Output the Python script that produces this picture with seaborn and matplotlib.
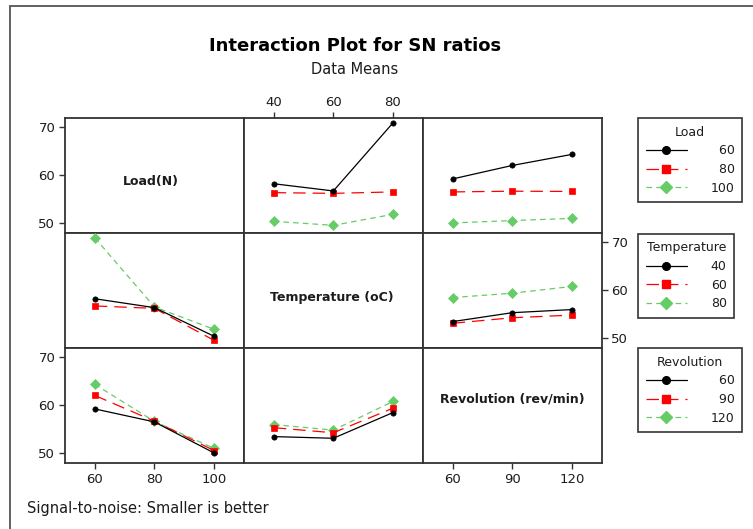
import matplotlib
matplotlib.use('Agg')
import matplotlib.pyplot as plt
import matplotlib.patches as patches
from matplotlib.lines import Line2D
import seaborn as sns

# factor levels
load_levels = [60, 80, 100]
temp_levels = [40, 60, 80]
rev_levels = [60, 90, 120]

factor_names = ['Load', 'Temperature', 'Revolution']
factor_labels = ['Load(N)', 'Temperature (oC)', 'Revolution (rev/min)']
factor_levels = [load_levels, temp_levels, rev_levels]

# mean SN ratios, rows = first factor level, cols = second factor level
load_temp = [[58.2, 56.7, 70.85],
             [56.35, 56.2, 56.5],
             [50.4, 49.55, 51.85]]
load_rev = [[59.2, 62.0, 64.3],
            [56.5, 56.65, 56.6],
            [50.05, 50.55, 51.0]]
temp_rev = [[53.45, 55.3, 55.95],
            [53.1, 54.25, 54.8],
            [58.45, 59.35, 60.75]]

y_ticks = [50, 60, 70]

tables = {(0, 1): load_temp, (0, 2): load_rev, (1, 2): temp_rev}


def get_table(i, j):
    # table with rows = levels of factor i, cols = levels of factor j
    if (i, j) in tables:
        return tables[(i, j)]
    t = tables[(j, i)]
    return [[t[c][r] for c in range(3)] for r in range(3)]


sns.set_style('white')
plt.rcParams['font.family'] = ['DejaVu Sans']
plt.rcParams['lines.scale_dashes'] = False

colors = ['black', '#ff0000', '#66cc66']
markers = ['o', 's', 'D']
msizes = [3.8, 4.5, 4.6]
lstyles = ['-', (0, (9, 5)), (0, (4, 3))]
text_col = '#1c1c1c'
edge_col = '#333333'

fig, axes = plt.subplots(3, 3, figsize=(7.53, 5.29), dpi=100)
fig.subplots_adjust(left=65 / 753, right=601.7 / 753, top=1 - 118.3 / 529,
                    bottom=1 - 463.3 / 529, wspace=0, hspace=0)

label_pos = [(0.48, 0.45), (0.49, 0.44), (0.50, 0.56)]

for i in range(3):
    for j in range(3):
        ax = axes[i, j]
        ax.set_xlim(-0.5, 2.5)
        ax.set_ylim(47.9, 71.8)
        for s in ax.spines.values():
            s.set_color(edge_col)
            s.set_linewidth(1.3)
        ax.tick_params(left=False, labelleft=False, bottom=False, labelbottom=False)
        if i == j:
            ax.text(label_pos[i][0], label_pos[i][1], factor_labels[i], transform=ax.transAxes,
                    ha='center', va='center', fontsize=9, fontweight='bold', color=text_col)
        else:
            tab = get_table(i, j)
            for k in range(3):
                sns.lineplot(x=[0, 1, 2], y=tab[k], ax=ax, color=colors[k], marker=markers[k],
                             markersize=msizes[k], markeredgecolor=colors[k], markeredgewidth=0.5,
                             linewidth=0.9, linestyle=lstyles[k], clip_on=False, zorder=3 + (2 - k))
        ax.set_xlabel('')
        ax.set_ylabel('')
        ax.set_xticks([0, 1, 2])
        ax.set_xticklabels([str(v) for v in factor_levels[j]])
        ax.set_yticks(y_ticks)
        ax.set_yticklabels([str(v) for v in y_ticks])
        ax.tick_params(direction='out', length=4, width=1, colors=edge_col,
                       labelcolor=text_col, labelsize=9.5, pad=3)

# axis ticks like the Minitab layout
axes[0, 0].tick_params(left=True, labelleft=True)
axes[2, 0].tick_params(left=True, labelleft=True, bottom=True, labelbottom=True)
axes[1, 2].tick_params(right=True, labelright=True)
axes[0, 1].tick_params(top=True, labeltop=True)
axes[2, 2].tick_params(bottom=True, labelbottom=True)

# legends, one per row
legend_tops = [118.3, 234.0, 348.3]
fs = '\u2007'
for i in range(3):
    handles = [Line2D([0], [0], color=colors[k], marker=markers[k], markersize=[5.5, 5.5, 6.5][k],
                      markeredgecolor=colors[k], linewidth=0.9, linestyle=lstyles[k])
               for k in range(3)]
    labs = [str(v) for v in factor_levels[i]]
    width = max(len(s) for s in labs)
    labs = [fs * (width - len(s)) + s for s in labs]
    leg = fig.legend(handles, labs, title=factor_names[i], loc='upper left',
                     bbox_to_anchor=(638.3 / 753, 1 - legend_tops[i] / 529),
                     bbox_transform=fig.transFigure, borderaxespad=0, fancybox=False,
                     framealpha=1, edgecolor=edge_col, fontsize=9, title_fontsize=9,
                     handlelength=3.3, handletextpad=1.9, labelspacing=0.45,
                     borderpad=0.6)
    leg.get_frame().set_linewidth(1.2)
    for t in leg.get_texts():
        t.set_color(text_col)
    leg.get_title().set_color(text_col)

fig.text(355 / 753, 1 - 46 / 529, 'Interaction Plot for SN ratios', ha='center', va='center',
         fontsize=13, fontweight='bold', color='black')
fig.text(355 / 753, 1 - 69 / 529, 'Data Means', ha='center', va='center',
         fontsize=10.5, color=text_col)
fig.text(27 / 753, 1 - 509 / 529, 'Signal-to-noise: Smaller is better', ha='left', va='center',
         fontsize=10.5, color=text_col)

# outer frame of the graph window
fig.patches.append(patches.Rectangle((10 / 753, -0.1), 1.2, 1 - 6 / 529 + 0.1,
                                     transform=fig.transFigure, fill=False,
                                     edgecolor='#555555', linewidth=1.3))

fig.savefig('out.png', dpi=100)
